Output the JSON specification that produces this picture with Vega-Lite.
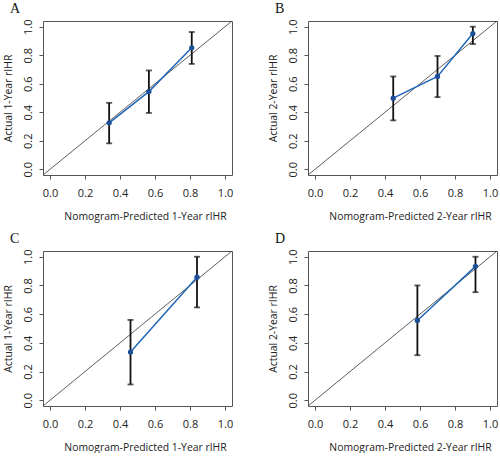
{
  "$schema": "https://vega.github.io/schema/vega-lite/v6.json",
  "padding": {"left": 2, "top": 1, "right": 0, "bottom": 0},
  "background": "white",
  "datasets": {
    "cal": [
      {"panel": "A", "pred": 0.338, "obs": 0.326, "lo": 0.182, "hi": 0.466},
      {"panel": "A", "pred": 0.565, "obs": 0.545, "lo": 0.395, "hi": 0.693},
      {"panel": "A", "pred": 0.810, "obs": 0.852, "lo": 0.739, "hi": 0.963},
      {"panel": "B", "pred": 0.447, "obs": 0.499, "lo": 0.343, "hi": 0.651},
      {"panel": "B", "pred": 0.700, "obs": 0.651, "lo": 0.506, "hi": 0.795},
      {"panel": "B", "pred": 0.902, "obs": 0.952, "lo": 0.878, "hi": 1.0},
      {"panel": "C", "pred": 0.460, "obs": 0.336, "lo": 0.110, "hi": 0.560},
      {"panel": "C", "pred": 0.840, "obs": 0.857, "lo": 0.647, "hi": 1.0},
      {"panel": "D", "pred": 0.585, "obs": 0.556, "lo": 0.314, "hi": 0.800},
      {"panel": "D", "pred": 0.917, "obs": 0.933, "lo": 0.753, "hi": 1.0}
    ],
    "diag": [
      {"pred": -0.04, "obs": -0.04},
      {"pred": 1.04, "obs": 1.04}
    ]
  },
  "config": {
    "view": {"stroke": "#555555", "strokeWidth": 1},
    "axis": {
      "grid": false,
      "domain": false,
      "tickColor": "#555555",
      "tickSize": 4,
      "labelColor": "#222222",
      "labelFont": "Open Sans",
      "labelFontSize": 11,
      "labelOverlap": false,
      "labelFlush": false,
      "titleFont": "Open Sans",
      "titleFontSize": 10.4,
      "titleFontWeight": "normal",
      "titleColor": "#222222"
    },
    "axisY": {"labelAngle": -90, "labelAlign": "center", "labelBaseline": "bottom", "labelPadding": 6, "titlePadding": 9},
    "axisX": {"labelPadding": 8, "titlePadding": 13, "titleX": 102},
    "title": {"font": "Liberation Serif", "fontSize": 14, "fontWeight": "normal", "anchor": "start", "frame": "bounds", "color": "#111111", "dx": 7, "offset": 3}
  },
  "columns": 2,
  "spacing": {"row": 9, "column": 32},
  "concat": [
    {
      "title": "A",
      "width": 189, "height": 154,
      "layer": [
        {"data": {"name": "diag"}, "mark": {"type": "line", "color": "#333333", "strokeWidth": 0.8},
         "encoding": {"x": {"field": "pred", "type": "quantitative", "scale": {"domain": [-0.04, 1.04], "nice": false, "zero": false},
           "axis": {"values": [0, 0.2, 0.4, 0.6, 0.8, 1.0], "format": ".1f", "title": "Nomogram-Predicted 1-Year rIHR"}},
           "y": {"field": "obs", "type": "quantitative", "scale": {"domain": [-0.04, 1.04], "nice": false, "zero": false},
           "axis": {"values": [0, 0.2, 0.4, 0.6, 0.8, 1.0], "format": ".1f", "title": "Actual 1-Year rIHR"}}}},
        {"data": {"name": "cal"}, "transform": [{"filter": "datum.panel === 'A'"}],
         "layer": [
           {"mark": {"type": "line", "color": "#2066b8", "strokeWidth": 1.5},
            "encoding": {"x": {"field": "pred", "type": "quantitative", "axis": {"values": [0, 0.2, 0.4, 0.6, 0.8, 1.0], "format": ".1f", "title": "Nomogram-Predicted 1-Year rIHR"}},
              "y": {"field": "obs", "type": "quantitative", "axis": {"values": [0, 0.2, 0.4, 0.6, 0.8, 1.0], "format": ".1f", "title": "Actual 1-Year rIHR"}}}},
           {"mark": {"type": "errorbar", "ticks": {"size": 6, "color": "#111111", "strokeWidth": 1.5}, "color": "#111111", "thickness": 1.8},
            "encoding": {"x": {"field": "pred", "type": "quantitative", "axis": {"values": [0, 0.2, 0.4, 0.6, 0.8, 1.0], "format": ".1f", "title": "Nomogram-Predicted 1-Year rIHR"}},
              "y": {"field": "lo", "type": "quantitative", "axis": {"values": [0, 0.2, 0.4, 0.6, 0.8, 1.0], "format": ".1f", "title": "Actual 1-Year rIHR"}}, "y2": {"field": "hi"}}},
           {"mark": {"type": "point", "filled": true, "size": 28, "color": "#1c4f98", "opacity": 1},
            "encoding": {"x": {"field": "pred", "type": "quantitative", "axis": {"values": [0, 0.2, 0.4, 0.6, 0.8, 1.0], "format": ".1f", "title": "Nomogram-Predicted 1-Year rIHR"}},
              "y": {"field": "obs", "type": "quantitative", "axis": {"values": [0, 0.2, 0.4, 0.6, 0.8, 1.0], "format": ".1f", "title": "Actual 1-Year rIHR"}}}}
         ]}
      ]
    },
    {
      "title": "B",
      "width": 189, "height": 154,
      "layer": [
        {"data": {"name": "diag"}, "mark": {"type": "line", "color": "#333333", "strokeWidth": 0.8},
         "encoding": {"x": {"field": "pred", "type": "quantitative", "scale": {"domain": [-0.04, 1.04], "nice": false, "zero": false},
           "axis": {"values": [0, 0.2, 0.4, 0.6, 0.8, 1.0], "format": ".1f", "title": "Nomogram-Predicted 2-Year rIHR"}},
           "y": {"field": "obs", "type": "quantitative", "scale": {"domain": [-0.04, 1.04], "nice": false, "zero": false},
           "axis": {"values": [0, 0.2, 0.4, 0.6, 0.8, 1.0], "format": ".1f", "title": "Actual 2-Year rIHR"}}}},
        {"data": {"name": "cal"}, "transform": [{"filter": "datum.panel === 'B'"}],
         "layer": [
           {"mark": {"type": "line", "color": "#2066b8", "strokeWidth": 1.5},
            "encoding": {"x": {"field": "pred", "type": "quantitative", "axis": {"values": [0, 0.2, 0.4, 0.6, 0.8, 1.0], "format": ".1f", "title": "Nomogram-Predicted 2-Year rIHR"}},
              "y": {"field": "obs", "type": "quantitative", "axis": {"values": [0, 0.2, 0.4, 0.6, 0.8, 1.0], "format": ".1f", "title": "Actual 2-Year rIHR"}}}},
           {"mark": {"type": "errorbar", "ticks": {"size": 6, "color": "#111111", "strokeWidth": 1.5}, "color": "#111111", "thickness": 1.8},
            "encoding": {"x": {"field": "pred", "type": "quantitative", "axis": {"values": [0, 0.2, 0.4, 0.6, 0.8, 1.0], "format": ".1f", "title": "Nomogram-Predicted 2-Year rIHR"}},
              "y": {"field": "lo", "type": "quantitative", "axis": {"values": [0, 0.2, 0.4, 0.6, 0.8, 1.0], "format": ".1f", "title": "Actual 2-Year rIHR"}}, "y2": {"field": "hi"}}},
           {"mark": {"type": "point", "filled": true, "size": 28, "color": "#1c4f98", "opacity": 1},
            "encoding": {"x": {"field": "pred", "type": "quantitative", "axis": {"values": [0, 0.2, 0.4, 0.6, 0.8, 1.0], "format": ".1f", "title": "Nomogram-Predicted 2-Year rIHR"}},
              "y": {"field": "obs", "type": "quantitative", "axis": {"values": [0, 0.2, 0.4, 0.6, 0.8, 1.0], "format": ".1f", "title": "Actual 2-Year rIHR"}}}}
         ]}
      ]
    },
    {
      "title": "C",
      "width": 189, "height": 155,
      "layer": [
        {"data": {"name": "diag"}, "mark": {"type": "line", "color": "#333333", "strokeWidth": 0.8},
         "encoding": {"x": {"field": "pred", "type": "quantitative", "scale": {"domain": [-0.04, 1.04], "nice": false, "zero": false},
           "axis": {"values": [0, 0.2, 0.4, 0.6, 0.8, 1.0], "format": ".1f", "title": "Nomogram-Predicted 1-Year rIHR"}},
           "y": {"field": "obs", "type": "quantitative", "scale": {"domain": [-0.04, 1.04], "nice": false, "zero": false},
           "axis": {"values": [0, 0.2, 0.4, 0.6, 0.8, 1.0], "format": ".1f", "title": "Actual 1-Year rIHR"}}}},
        {"data": {"name": "cal"}, "transform": [{"filter": "datum.panel === 'C'"}],
         "layer": [
           {"mark": {"type": "line", "color": "#2066b8", "strokeWidth": 1.5},
            "encoding": {"x": {"field": "pred", "type": "quantitative", "axis": {"values": [0, 0.2, 0.4, 0.6, 0.8, 1.0], "format": ".1f", "title": "Nomogram-Predicted 1-Year rIHR"}},
              "y": {"field": "obs", "type": "quantitative", "axis": {"values": [0, 0.2, 0.4, 0.6, 0.8, 1.0], "format": ".1f", "title": "Actual 1-Year rIHR"}}}},
           {"mark": {"type": "errorbar", "ticks": {"size": 6, "color": "#111111", "strokeWidth": 1.5}, "color": "#111111", "thickness": 1.8},
            "encoding": {"x": {"field": "pred", "type": "quantitative", "axis": {"values": [0, 0.2, 0.4, 0.6, 0.8, 1.0], "format": ".1f", "title": "Nomogram-Predicted 1-Year rIHR"}},
              "y": {"field": "lo", "type": "quantitative", "axis": {"values": [0, 0.2, 0.4, 0.6, 0.8, 1.0], "format": ".1f", "title": "Actual 1-Year rIHR"}}, "y2": {"field": "hi"}}},
           {"mark": {"type": "point", "filled": true, "size": 28, "color": "#1c4f98", "opacity": 1},
            "encoding": {"x": {"field": "pred", "type": "quantitative", "axis": {"values": [0, 0.2, 0.4, 0.6, 0.8, 1.0], "format": ".1f", "title": "Nomogram-Predicted 1-Year rIHR"}},
              "y": {"field": "obs", "type": "quantitative", "axis": {"values": [0, 0.2, 0.4, 0.6, 0.8, 1.0], "format": ".1f", "title": "Actual 1-Year rIHR"}}}}
         ]}
      ]
    },
    {
      "title": "D",
      "width": 189, "height": 155,
      "layer": [
        {"data": {"name": "diag"}, "mark": {"type": "line", "color": "#333333", "strokeWidth": 0.8},
         "encoding": {"x": {"field": "pred", "type": "quantitative", "scale": {"domain": [-0.04, 1.04], "nice": false, "zero": false},
           "axis": {"values": [0, 0.2, 0.4, 0.6, 0.8, 1.0], "format": ".1f", "title": "Nomogram-Predicted 2-Year rIHR"}},
           "y": {"field": "obs", "type": "quantitative", "scale": {"domain": [-0.04, 1.04], "nice": false, "zero": false},
           "axis": {"values": [0, 0.2, 0.4, 0.6, 0.8, 1.0], "format": ".1f", "title": "Actual 2-Year rIHR"}}}},
        {"data": {"name": "cal"}, "transform": [{"filter": "datum.panel === 'D'"}],
         "layer": [
           {"mark": {"type": "line", "color": "#2066b8", "strokeWidth": 1.5},
            "encoding": {"x": {"field": "pred", "type": "quantitative", "axis": {"values": [0, 0.2, 0.4, 0.6, 0.8, 1.0], "format": ".1f", "title": "Nomogram-Predicted 2-Year rIHR"}},
              "y": {"field": "obs", "type": "quantitative", "axis": {"values": [0, 0.2, 0.4, 0.6, 0.8, 1.0], "format": ".1f", "title": "Actual 2-Year rIHR"}}}},
           {"mark": {"type": "errorbar", "ticks": {"size": 6, "color": "#111111", "strokeWidth": 1.5}, "color": "#111111", "thickness": 1.8},
            "encoding": {"x": {"field": "pred", "type": "quantitative", "axis": {"values": [0, 0.2, 0.4, 0.6, 0.8, 1.0], "format": ".1f", "title": "Nomogram-Predicted 2-Year rIHR"}},
              "y": {"field": "lo", "type": "quantitative", "axis": {"values": [0, 0.2, 0.4, 0.6, 0.8, 1.0], "format": ".1f", "title": "Actual 2-Year rIHR"}}, "y2": {"field": "hi"}}},
           {"mark": {"type": "point", "filled": true, "size": 28, "color": "#1c4f98", "opacity": 1},
            "encoding": {"x": {"field": "pred", "type": "quantitative", "axis": {"values": [0, 0.2, 0.4, 0.6, 0.8, 1.0], "format": ".1f", "title": "Nomogram-Predicted 2-Year rIHR"}},
              "y": {"field": "obs", "type": "quantitative", "axis": {"values": [0, 0.2, 0.4, 0.6, 0.8, 1.0], "format": ".1f", "title": "Actual 2-Year rIHR"}}}}
         ]}
      ]
    }
  ]
}
